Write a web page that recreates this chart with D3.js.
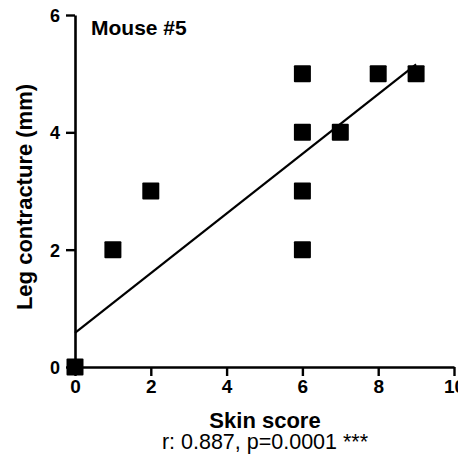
<!DOCTYPE html>
<html>
<head>
<meta charset="utf-8">
<script src="https://cdn.jsdelivr.net/npm/d3@7"></script>
<style>
  html, body { margin: 0; padding: 0; background: #fff; }
  svg { display: block; font-family: "Liberation Sans", Arial, sans-serif; }
</style>
</head>
<body>
<svg id="chart" width="458" height="460"></svg>
<script>
// Data
const skinScore = [0, 1, 2, 6, 6, 6, 6, 7, 8, 9];
const legContracture = [0, 2, 3, 2, 3, 4, 5, 4, 5, 5];
const fitX = [0, 9];
const fitY = [0.58, 5.16];
const xTicks = [0, 2, 4, 6, 8, 10];
const yTicks = [0, 2, 4, 6];
const titleText = "Mouse #5";
const xLabel = "Skin score";
const yLabel = "Leg contracture (mm)";
const statsText = "r: 0.887, p=0.0001 ***";

const svg = d3.select("#chart");
const x = d3.scaleLinear().domain([0, 10]).range([75, 454]);
const y = d3.scaleLinear().domain([0, 6]).range([367, 15]);

// axes
const xAxis = svg.append("g").attr("transform", `translate(0,${y(0)})`)
  .call(d3.axisBottom(x).tickValues(xTicks).tickFormat(d3.format("d")).tickSize(9).tickSizeOuter(0).tickPadding(4));
const yAxis = svg.append("g").attr("transform", `translate(${x(0)},0)`)
  .call(d3.axisLeft(y).tickValues(yTicks).tickFormat(d3.format("d")).tickSize(9).tickSizeOuter(0).tickPadding(6));

[xAxis, yAxis].forEach(g => {
  g.select(".domain").attr("stroke", "#000").attr("stroke-width", 2.6);
  g.selectAll(".tick line").attr("stroke", "#000").attr("stroke-width", 2.4);
  g.selectAll(".tick text").attr("fill", "#000")
    .style("font-family", '"Liberation Sans", Arial, sans-serif')
    .style("font-weight", "bold");
});
xAxis.selectAll(".tick text").style("font-size", "19px");
yAxis.selectAll(".tick text").style("font-size", "18px").attr("dy", "0.36em");

// regression line
svg.append("line")
  .attr("x1", x(fitX[0])).attr("y1", y(fitY[0]))
  .attr("x2", x(fitX[1])).attr("y2", y(fitY[1]))
  .attr("stroke", "#000").attr("stroke-width", 2.2);

// points
const s = 17;
svg.append("g").selectAll("rect")
  .data(skinScore.map((v, i) => [v, legContracture[i]]))
  .join("rect")
  .attr("x", d => x(d[0]) - s / 2)
  .attr("y", d => y(d[1]) - s / 2)
  .attr("width", s).attr("height", s)
  .attr("rx", 1)
  .attr("fill", "#000");

// texts
svg.append("text").attr("x", 91).attr("y", 34.5)
  .attr("font-size", 21).attr("font-weight", "bold").text(titleText);

svg.append("text").attr("x", 265).attr("y", 428)
  .attr("text-anchor", "middle").attr("font-size", 22).attr("font-weight", "bold").text(xLabel);

svg.append("text").attr("x", 265).attr("y", 449)
  .attr("text-anchor", "middle").attr("font-size", 21.5).text(statsText);

svg.append("text")
  .attr("transform", "translate(32,197) rotate(-90)")
  .attr("text-anchor", "middle").attr("font-size", 22).attr("font-weight", "bold").text(yLabel);
</script>
</body>
</html>
